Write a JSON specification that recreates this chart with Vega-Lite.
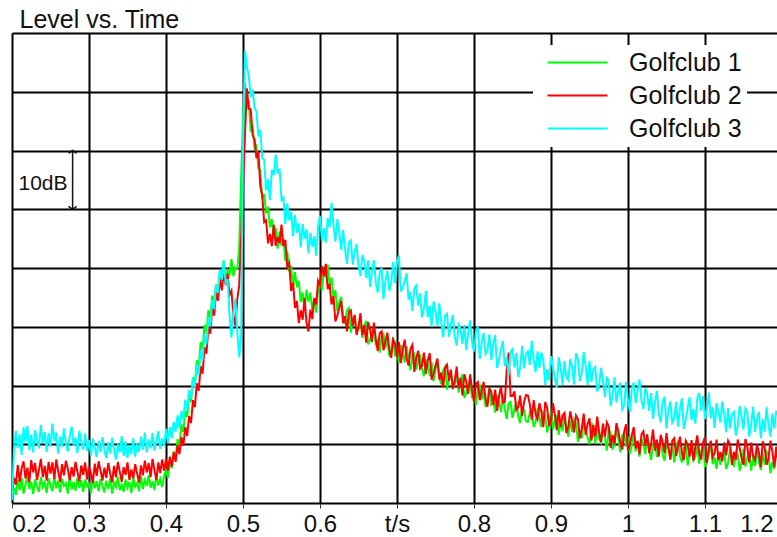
{
  "$schema": "https://vega.github.io/schema/vega-lite/v6.json",
  "width": 770,
  "height": 470,
  "autosize": {"type": "none"},
  "padding": {"left": 12, "top": 33, "right": -5, "bottom": 34},
  "background": "white",
  "title": {"text": "Level vs. Time", "anchor": "start", "fontSize": 25, "font": "Liberation Sans", "fontWeight": "normal", "color": "#111", "offset": 4, "dx": 8, "dy": 24, "baseline": "alphabetic"},
  "config": {"view": {"stroke": null}},
  "datasets": {
    "main": [
{"t":0.2,"g":1.0,"r":2.0,"c":0.5},
{"t":0.2025,"g":2.6,"r":4.3,"c":8.9},
{"t":0.205,"g":1.4,"r":3.1,"c":12.3},
{"t":0.2075,"g":3.9,"r":6.5,"c":9.4},
{"t":0.21,"g":2.2,"r":3.6,"c":11.7},
{"t":0.2125,"g":4.3,"r":5.9,"c":8.2},
{"t":0.215,"g":1.6,"r":7.1,"c":12.9},
{"t":0.2175,"g":3.1,"r":4.2,"c":10.3},
{"t":0.22,"g":4.6,"r":6.0,"c":13.1},
{"t":0.2225,"g":2.4,"r":3.5,"c":9.0},
{"t":0.225,"g":3.6,"r":7.3,"c":11.6},
{"t":0.2275,"g":1.5,"r":5.2,"c":8.6},
{"t":0.23,"g":4.0,"r":6.8,"c":12.4},
{"t":0.2325,"g":2.8,"r":3.9,"c":10.8},
{"t":0.235,"g":1.9,"r":5.6,"c":9.3},
{"t":0.2375,"g":4.4,"r":7.5,"c":13.3},
{"t":0.24,"g":2.7,"r":4.4,"c":10.2},
{"t":0.2425,"g":3.5,"r":6.3,"c":12.1},
{"t":0.245,"g":1.7,"r":3.8,"c":8.7},
{"t":0.2475,"g":4.2,"r":7.0,"c":11.9},
{"t":0.25,"g":3.0,"r":5.0,"c":9.6},
{"t":0.2525,"g":2.0,"r":6.9,"c":13.5},
{"t":0.255,"g":4.5,"r":4.1,"c":10.5},
{"t":0.2575,"g":2.5,"r":7.4,"c":12.0},
{"t":0.26,"g":3.8,"r":5.4,"c":8.4},
{"t":0.2625,"g":1.8,"r":3.6,"c":11.3},
{"t":0.265,"g":4.1,"r":6.6,"c":9.5},
{"t":0.2675,"g":2.9,"r":4.7,"c":12.7},
{"t":0.27,"g":3.4,"r":7.2,"c":10.0},
{"t":0.2725,"g":1.6,"r":5.8,"c":8.8},
{"t":0.275,"g":4.7,"r":3.9,"c":11.4},
{"t":0.2775,"g":2.3,"r":6.1,"c":13.0},
{"t":0.28,"g":3.6,"r":4.5,"c":9.8},
{"t":0.2825,"g":2.1,"r":7.0,"c":11.1},
{"t":0.285,"g":4.3,"r":5.3,"c":8.5},
{"t":0.2875,"g":2.6,"r":3.7,"c":12.3},
{"t":0.29,"g":3.9,"r":6.4,"c":10.2},
{"t":0.2925,"g":1.9,"r":4.8,"c":9.1},
{"t":0.295,"g":4.0,"r":6.9,"c":11.8},
{"t":0.2975,"g":2.8,"r":4.0,"c":8.9},
{"t":0.3,"g":3.3,"r":6.2,"c":10.7},
{"t":0.3025,"g":1.7,"r":5.1,"c":8.1},
{"t":0.305,"g":4.4,"r":3.4,"c":11.0},
{"t":0.3075,"g":2.5,"r":6.7,"c":9.4},
{"t":0.31,"g":3.7,"r":4.6,"c":7.8},
{"t":0.3125,"g":2.0,"r":7.1,"c":10.6},
{"t":0.315,"g":4.1,"r":5.5,"c":8.7},
{"t":0.3175,"g":2.9,"r":3.8,"c":11.2},
{"t":0.32,"g":1.8,"r":6.0,"c":9.0},
{"t":0.3225,"g":3.8,"r":4.3,"c":7.6},
{"t":0.325,"g":2.4,"r":6.8,"c":10.3},
{"t":0.3275,"g":4.2,"r":5.0,"c":8.4},
{"t":0.33,"g":1.6,"r":3.5,"c":11.1},
{"t":0.3325,"g":3.5,"r":6.3,"c":9.2},
{"t":0.335,"g":2.7,"r":4.4,"c":7.4},
{"t":0.3375,"g":4.5,"r":7.0,"c":10.0},
{"t":0.34,"g":2.2,"r":5.3,"c":8.6},
{"t":0.3425,"g":3.1,"r":3.6,"c":11.4},
{"t":0.345,"g":1.9,"r":6.1,"c":8.0},
{"t":0.3475,"g":4.0,"r":4.8,"c":10.5},
{"t":0.35,"g":2.6,"r":6.9,"c":7.7},
{"t":0.3525,"g":3.6,"r":3.9,"c":9.9},
{"t":0.355,"g":1.7,"r":5.7,"c":8.3},
{"t":0.3575,"g":4.3,"r":4.2,"c":11.0},
{"t":0.36,"g":2.8,"r":6.6,"c":7.9},
{"t":0.3625,"g":3.4,"r":5.0,"c":10.1},
{"t":0.365,"g":2.0,"r":3.5,"c":8.7},
{"t":0.3675,"g":4.6,"r":6.4,"c":11.3},
{"t":0.37,"g":2.4,"r":4.7,"c":9.1},
{"t":0.3725,"g":3.9,"r":7.2,"c":12.0},
{"t":0.375,"g":2.9,"r":5.2,"c":8.6},
{"t":0.3775,"g":4.8,"r":6.8,"c":10.8},
{"t":0.38,"g":2.6,"r":4.4,"c":9.3},
{"t":0.3825,"g":3.7,"r":7.5,"c":11.9},
{"t":0.385,"g":2.2,"r":5.6,"c":8.9},
{"t":0.3875,"g":4.9,"r":3.9,"c":10.6},
{"t":0.39,"g":3.0,"r":6.9,"c":12.2},
{"t":0.3925,"g":4.1,"r":5.1,"c":9.2},
{"t":0.395,"g":2.7,"r":7.4,"c":11.0},
{"t":0.3975,"g":4.6,"r":5.5,"c":9.7},
{"t":0.4,"g":5.6,"r":7.4,"c":12.6},
{"t":0.4025,"g":4.3,"r":5.5,"c":10.2},
{"t":0.405,"g":7.1,"r":7.9,"c":12.9},
{"t":0.4075,"g":5.9,"r":6.2,"c":11.0},
{"t":0.41,"g":8.8,"r":8.6,"c":13.8},
{"t":0.4125,"g":7.6,"r":7.0,"c":12.1},
{"t":0.415,"g":10.9,"r":9.9,"c":14.9},
{"t":0.4175,"g":9.8,"r":8.3,"c":12.8},
{"t":0.42,"g":13.4,"r":11.2,"c":15.7},
{"t":0.4225,"g":12.1,"r":9.7,"c":14.2},
{"t":0.425,"g":15.7,"r":12.9,"c":17.6},
{"t":0.4275,"g":14.6,"r":11.4,"c":15.9},
{"t":0.43,"g":18.3,"r":14.8,"c":19.2},
{"t":0.4325,"g":17.2,"r":13.6,"c":17.8},
{"t":0.435,"g":21.4,"r":17.5,"c":21.3},
{"t":0.4375,"g":20.2,"r":16.3,"c":19.7},
{"t":0.44,"g":24.3,"r":20.4,"c":23.5},
{"t":0.4425,"g":23.1,"r":19.1,"c":21.8},
{"t":0.445,"g":27.4,"r":23.3,"c":25.9},
{"t":0.4475,"g":26.1,"r":22.0,"c":24.4},
{"t":0.45,"g":30.3,"r":26.5,"c":28.6},
{"t":0.4525,"g":29.0,"r":25.4,"c":27.0},
{"t":0.455,"g":32.8,"r":29.9,"c":31.4},
{"t":0.4575,"g":31.5,"r":28.8,"c":30.1},
{"t":0.46,"g":35.3,"r":33.2,"c":34.5},
{"t":0.4625,"g":33.8,"r":31.9,"c":33.0},
{"t":0.465,"g":37.2,"r":35.9,"c":37.1},
{"t":0.4675,"g":35.9,"r":34.4,"c":35.8},
{"t":0.47,"g":39.3,"r":38.1,"c":39.7},
{"t":0.4725,"g":37.8,"r":36.2,"c":38.0},
{"t":0.475,"g":41.3,"r":39.2,"c":41.2},
{"t":0.4775,"g":38.0,"r":37.1,"c":37.4},
{"t":0.48,"g":39.6,"r":39.0,"c":38.1},
{"t":0.4825,"g":38.9,"r":35.4,"c":32.0},
{"t":0.485,"g":41.5,"r":36.1,"c":28.2},
{"t":0.4875,"g":38.6,"r":32.0,"c":32.4},
{"t":0.49,"g":40.1,"r":30.2,"c":34.8},
{"t":0.4925,"g":39.9,"r":34.6,"c":29.3},
{"t":0.495,"g":43.2,"r":36.9,"c":24.8},
{"t":0.4975,"g":55.0,"r":45.0,"c":28.0},
{"t":0.5,"g":65.0,"r":53.5,"c":61.0},
{"t":0.5025,"g":71.5,"r":62.5,"c":77.0},
{"t":0.505,"g":67.2,"r":70.6,"c":74.3},
{"t":0.5075,"g":68.4,"r":67.1,"c":72.8},
{"t":0.51,"g":63.2,"r":67.0,"c":69.1},
{"t":0.5125,"g":64.1,"r":62.6,"c":70.4},
{"t":0.515,"g":60.4,"r":61.9,"c":67.2},
{"t":0.5175,"g":60.8,"r":58.7,"c":66.6},
{"t":0.52,"g":56.9,"r":59.8,"c":62.4},
{"t":0.5225,"g":56.7,"r":53.9,"c":63.5},
{"t":0.525,"g":51.8,"r":52.3,"c":58.7},
{"t":0.5275,"g":52.6,"r":47.8,"c":58.4},
{"t":0.53,"g":49.3,"r":48.1,"c":53.2},
{"t":0.5325,"g":50.4,"r":44.2,"c":55.1},
{"t":0.535,"g":46.9,"r":45.8,"c":51.6},
{"t":0.5375,"g":48.3,"r":43.7,"c":56.7},
{"t":0.54,"g":45.2,"r":47.4,"c":55.8},
{"t":0.5425,"g":46.8,"r":43.8,"c":59.3},
{"t":0.545,"g":43.3,"r":45.3,"c":56.1},
{"t":0.5475,"g":46.2,"r":44.2,"c":56.9},
{"t":0.55,"g":43.8,"r":47.4,"c":51.6},
{"t":0.5525,"g":44.9,"r":43.7,"c":52.0},
{"t":0.555,"g":41.2,"r":44.8,"c":47.5},
{"t":0.5575,"g":42.8,"r":40.2,"c":51.0},
{"t":0.56,"g":39.3,"r":40.9,"c":48.1},
{"t":0.5625,"g":40.4,"r":36.1,"c":49.6},
{"t":0.565,"g":36.8,"r":37.5,"c":45.4},
{"t":0.5675,"g":39.3,"r":33.2,"c":49.0},
{"t":0.57,"g":36.7,"r":34.4,"c":46.0},
{"t":0.5725,"g":37.8,"r":30.6,"c":47.6},
{"t":0.575,"g":34.2,"r":32.8,"c":43.5},
{"t":0.5775,"g":35.8,"r":31.2,"c":47.5},
{"t":0.58,"g":32.7,"r":34.9,"c":45.0},
{"t":0.5825,"g":36.3,"r":30.7,"c":46.6},
{"t":0.585,"g":34.3,"r":29.2,"c":42.5},
{"t":0.5875,"g":35.8,"r":32.9,"c":46.0},
{"t":0.59,"g":32.8,"r":31.3,"c":43.6},
{"t":0.5925,"g":34.7,"r":34.9,"c":45.4},
{"t":0.595,"g":32.4,"r":33.8,"c":42.1},
{"t":0.5975,"g":36.2,"r":37.8,"c":47.0},
{"t":0.6,"g":37.9,"r":37.1,"c":48.9},
{"t":0.6025,"g":36.2,"r":40.3,"c":44.6},
{"t":0.605,"g":39.7,"r":38.6,"c":46.8},
{"t":0.6075,"g":38.4,"r":40.7,"c":44.3},
{"t":0.61,"g":40.6,"r":36.4,"c":48.5},
{"t":0.6125,"g":36.9,"r":37.3,"c":46.9},
{"t":0.615,"g":38.4,"r":33.8,"c":51.1},
{"t":0.6175,"g":35.0,"r":35.2,"c":47.2},
{"t":0.62,"g":36.2,"r":30.9,"c":44.5},
{"t":0.6225,"g":32.6,"r":31.9,"c":48.3},
{"t":0.625,"g":34.2,"r":33.2,"c":46.1},
{"t":0.6275,"g":35.1,"r":34.4,"c":43.1},
{"t":0.63,"g":31.9,"r":30.6,"c":46.5},
{"t":0.6325,"g":30.5,"r":31.8,"c":43.2},
{"t":0.635,"g":32.8,"r":29.2,"c":40.7},
{"t":0.6375,"g":33.2,"r":32.5,"c":44.4},
{"t":0.64,"g":29.0,"r":32.8,"c":44.7},
{"t":0.6425,"g":31.0,"r":30.1,"c":40.6},
{"t":0.645,"g":31.9,"r":32.0,"c":42.6},
{"t":0.6475,"g":29.3,"r":28.6,"c":44.1},
{"t":0.65,"g":29.6,"r":30.0,"c":40.4},
{"t":0.6525,"g":31.4,"r":32.3,"c":38.6},
{"t":0.655,"g":28.1,"r":28.6,"c":42.2},
{"t":0.6575,"g":30.1,"r":30.3,"c":41.2},
{"t":0.66,"g":31.0,"r":27.3,"c":38.3},
{"t":0.6625,"g":27.0,"r":30.8,"c":41.3},
{"t":0.665,"g":27.8,"r":29.5,"c":36.8},
{"t":0.6675,"g":29.0,"r":27.4,"c":39.5},
{"t":0.67,"g":30.0,"r":30.7,"c":41.3},
{"t":0.6725,"g":26.8,"r":27.9,"c":37.5},
{"t":0.675,"g":27.8,"r":25.9,"c":35.8},
{"t":0.6775,"g":25.6,"r":28.9,"c":39.2},
{"t":0.68,"g":28.4,"r":29.2,"c":40.0},
{"t":0.6825,"g":28.8,"r":26.0,"c":34.7},
{"t":0.685,"g":26.4,"r":27.6,"c":37.8},
{"t":0.6875,"g":28.0,"r":29.0,"c":39.5},
{"t":0.69,"g":25.0,"r":26.1,"c":36.1},
{"t":0.6925,"g":26.2,"r":24.7,"c":37.5},
{"t":0.695,"g":28.2,"r":27.8,"c":41.0},
{"t":0.6975,"g":25.0,"r":27.1,"c":37.4},
{"t":0.7,"g":26.4,"r":24.8,"c":41.1},
{"t":0.7025,"g":23.8,"r":27.4,"c":42.1},
{"t":0.705,"g":26.9,"r":23.8,"c":36.0},
{"t":0.7075,"g":25.7,"r":26.2,"c":36.7},
{"t":0.71,"g":23.9,"r":27.8,"c":37.8},
{"t":0.7125,"g":26.7,"r":24.6,"c":39.1},
{"t":0.715,"g":24.4,"r":23.4,"c":34.6},
{"t":0.7175,"g":22.6,"r":26.2,"c":35.9},
{"t":0.72,"g":25.2,"r":26.9,"c":32.7},
{"t":0.7225,"g":25.4,"r":22.3,"c":36.5},
{"t":0.725,"g":22.7,"r":24.7,"c":37.0},
{"t":0.7275,"g":24.1,"r":25.9,"c":33.6},
{"t":0.73,"g":25.3,"r":22.9,"c":35.7},
{"t":0.7325,"g":22.7,"r":23.4,"c":31.6},
{"t":0.735,"g":21.6,"r":25.6,"c":33.2},
{"t":0.7375,"g":24.2,"r":22.0,"c":36.1},
{"t":0.74,"g":23.6,"r":24.3,"c":31.6},
{"t":0.7425,"g":21.6,"r":25.5,"c":33.6},
{"t":0.745,"g":23.9,"r":21.0,"c":30.0},
{"t":0.7475,"g":20.7,"r":22.0,"c":34.3},
{"t":0.75,"g":22.7,"r":23.4,"c":32.6},
{"t":0.7525,"g":24.1,"r":24.6,"c":30.1},
{"t":0.755,"g":21.4,"r":21.0,"c":34.0},
{"t":0.7575,"g":20.2,"r":22.2,"c":30.7},
{"t":0.76,"g":22.6,"r":19.7,"c":28.2},
{"t":0.7625,"g":23.2,"r":23.0,"c":31.9},
{"t":0.765,"g":19.3,"r":23.5,"c":32.2},
{"t":0.7675,"g":21.3,"r":20.8,"c":28.3},
{"t":0.77,"g":22.3,"r":22.7,"c":30.3},
{"t":0.7725,"g":19.7,"r":19.4,"c":32.0},
{"t":0.775,"g":20.2,"r":20.8,"c":28.4},
{"t":0.7775,"g":22.0,"r":23.2,"c":26.8},
{"t":0.78,"g":18.8,"r":19.5,"c":30.4},
{"t":0.7825,"g":20.8,"r":21.3,"c":29.7},
{"t":0.785,"g":21.9,"r":18.3,"c":27.1},
{"t":0.7875,"g":17.9,"r":21.9,"c":30.3},
{"t":0.79,"g":18.7,"r":20.6,"c":26.0},
{"t":0.7925,"g":19.9,"r":18.6,"c":29.0},
{"t":0.795,"g":21.0,"r":21.9,"c":31.1},
{"t":0.7975,"g":17.8,"r":19.2,"c":27.3},
{"t":0.8,"g":18.8,"r":17.2,"c":25.8},
{"t":0.8025,"g":16.7,"r":20.3,"c":29.2},
{"t":0.805,"g":19.5,"r":20.6,"c":30.0},
{"t":0.8075,"g":20.0,"r":17.5,"c":24.5},
{"t":0.81,"g":17.6,"r":19.1,"c":27.3},
{"t":0.8125,"g":19.3,"r":20.6,"c":28.9},
{"t":0.815,"g":16.3,"r":17.7,"c":25.4},
{"t":0.8175,"g":17.6,"r":16.4,"c":26.0},
{"t":0.82,"g":19.6,"r":19.5,"c":28.7},
{"t":0.8225,"g":16.5,"r":18.9,"c":24.3},
{"t":0.825,"g":17.9,"r":16.7,"c":27.1},
{"t":0.8275,"g":15.4,"r":19.3,"c":28.6},
{"t":0.83,"g":18.4,"r":15.7,"c":23.0},
{"t":0.8325,"g":17.3,"r":18.1,"c":24.3},
{"t":0.835,"g":15.5,"r":19.8,"c":26.1},
{"t":0.8375,"g":18.4,"r":17.1,"c":27.6},
{"t":0.84,"g":16.0,"r":17.2,"c":23.3},
{"t":0.8425,"g":14.3,"r":22.7,"c":24.8},
{"t":0.845,"g":17.0,"r":25.6,"c":21.7},
{"t":0.8475,"g":17.2,"r":18.2,"c":25.7},
{"t":0.85,"g":14.5,"r":18.2,"c":26.2},
{"t":0.8525,"g":16.0,"r":19.0,"c":23.1},
{"t":0.855,"g":17.3,"r":15.8,"c":25.5},
{"t":0.8575,"g":14.7,"r":16.3,"c":21.4},
{"t":0.86,"g":13.6,"r":18.3,"c":23.2},
{"t":0.8625,"g":16.3,"r":14.8,"c":26.7},
{"t":0.865,"g":15.8,"r":17.2,"c":22.9},
{"t":0.8675,"g":13.9,"r":18.4,"c":25.4},
{"t":0.87,"g":13.8,"r":18.3,"c":25.8},
{"t":0.8725,"g":15.5,"r":16.8,"c":23.5},
{"t":0.875,"g":15.8,"r":14.2,"c":27.6},
{"t":0.8775,"g":12.9,"r":17.5,"c":24.3},
{"t":0.88,"g":13.8,"r":15.1,"c":22.3},
{"t":0.8825,"g":16.1,"r":14.3,"c":25.8},
{"t":0.885,"g":14.6,"r":17.0,"c":23.0},
{"t":0.8875,"g":12.9,"r":15.5,"c":25.6},
{"t":0.89,"g":15.4,"r":12.9,"c":24.4},
{"t":0.8925,"g":14.9,"r":17.2,"c":20.1},
{"t":0.895,"g":12.0,"r":16.2,"c":22.8},
{"t":0.8975,"g":13.5,"r":13.1,"c":20.9},
{"t":0.9,"g":15.6,"r":14.1,"c":25.0},
{"t":0.9025,"g":12.5,"r":17.0,"c":23.2},
{"t":0.905,"g":14.0,"r":15.1,"c":21.2},
{"t":0.9075,"g":14.9,"r":12.4,"c":19.6},
{"t":0.91,"g":11.6,"r":15.8,"c":24.8},
{"t":0.9125,"g":13.9,"r":12.9,"c":23.1},
{"t":0.915,"g":12.2,"r":14.9,"c":20.0},
{"t":0.9175,"g":15.1,"r":15.3,"c":24.2},
{"t":0.92,"g":12.8,"r":11.9,"c":21.4},
{"t":0.9225,"g":11.3,"r":13.0,"c":20.9},
{"t":0.925,"g":14.0,"r":15.6,"c":24.5},
{"t":0.9275,"g":12.1,"r":13.9,"c":23.1},
{"t":0.93,"g":14.2,"r":12.0,"c":20.2},
{"t":0.9325,"g":13.5,"r":14.9,"c":25.5},
{"t":0.935,"g":10.4,"r":14.3,"c":24.4},
{"t":0.9375,"g":12.3,"r":11.0,"c":20.8},
{"t":0.94,"g":11.0,"r":12.7,"c":22.2},
{"t":0.9425,"g":13.9,"r":15.2,"c":25.7},
{"t":0.945,"g":12.6,"r":11.6,"c":23.4},
{"t":0.9475,"g":11.1,"r":13.4,"c":20.1},
{"t":0.95,"g":10.0,"r":14.4,"c":24.2},
{"t":0.9525,"g":13.7,"r":10.6,"c":20.6},
{"t":0.955,"g":12.4,"r":13.3,"c":22.8},
{"t":0.9575,"g":10.1,"r":11.3,"c":23.2},
{"t":0.96,"g":13.0,"r":14.7,"c":19.0},
{"t":0.9625,"g":10.9,"r":12.1,"c":20.0},
{"t":0.965,"g":10.2,"r":10.4,"c":23.0},
{"t":0.9675,"g":12.5,"r":13.5,"c":20.7},
{"t":0.97,"g":11.2,"r":11.3,"c":18.0},
{"t":0.9725,"g":8.9,"r":13.7,"c":21.5},
{"t":0.975,"g":12.7,"r":13.0,"c":20.6},
{"t":0.9775,"g":11.8,"r":9.4,"c":16.5},
{"t":0.98,"g":9.1,"r":11.6,"c":18.4},
{"t":0.9825,"g":10.0,"r":10.1,"c":21.4},
{"t":0.985,"g":12.6,"r":13.6,"c":17.1},
{"t":0.9875,"g":10.9,"r":12.1,"c":19.2},
{"t":0.99,"g":8.6,"r":10.4,"c":20.5},
{"t":0.9925,"g":11.5,"r":9.1,"c":15.9},
{"t":0.995,"g":11.9,"r":12.1,"c":16.6},
{"t":0.9975,"g":9.6,"r":13.4,"c":20.6},
{"t":1.0,"g":11.3,"r":8.9,"c":17.4},
{"t":1.0025,"g":8.4,"r":10.0,"c":15.5},
{"t":1.005,"g":9.8,"r":11.6,"c":19.6},
{"t":1.0075,"g":11.9,"r":12.9,"c":20.5},
{"t":1.01,"g":8.8,"r":9.3,"c":17.0},
{"t":1.0125,"g":10.3,"r":10.6,"c":19.2},
{"t":1.015,"g":7.9,"r":8.3,"c":21.0},
{"t":1.0175,"g":11.0,"r":11.7,"c":17.5},
{"t":1.02,"g":9.9,"r":12.2,"c":16.0},
{"t":1.0225,"g":8.3,"r":9.7,"c":19.5},
{"t":1.025,"g":11.2,"r":11.7,"c":18.6},
{"t":1.0275,"g":9.0,"r":8.5,"c":15.7},
{"t":1.03,"g":7.3,"r":10.0,"c":18.7},
{"t":1.0325,"g":10.1,"r":12.5,"c":14.3},
{"t":1.035,"g":10.4,"r":8.9,"c":17.1},
{"t":1.0375,"g":7.8,"r":10.8,"c":19.1},
{"t":1.04,"g":9.3,"r":7.9,"c":15.2},
{"t":1.0425,"g":10.7,"r":11.6,"c":13.7},
{"t":1.045,"g":8.2,"r":10.4,"c":17.2},
{"t":1.0475,"g":7.2,"r":8.5,"c":18.1},
{"t":1.05,"g":9.9,"r":11.9,"c":12.7},
{"t":1.0525,"g":9.5,"r":9.3,"c":15.7},
{"t":1.055,"g":7.6,"r":7.4,"c":17.3},
{"t":1.0575,"g":10.0,"r":10.6,"c":13.7},
{"t":1.06,"g":6.9,"r":11.0,"c":14.4},
{"t":1.0625,"g":9.1,"r":8.0,"c":17.2},
{"t":1.065,"g":10.6,"r":9.7,"c":13.0},
{"t":1.0675,"g":8.0,"r":11.3,"c":16.1},
{"t":1.07,"g":6.9,"r":8.5,"c":17.8},
{"t":1.0725,"g":9.5,"r":7.3,"c":12.6},
{"t":1.075,"g":10.2,"r":10.6,"c":14.2},
{"t":1.0775,"g":6.4,"r":10.0,"c":16.2},
{"t":1.08,"g":8.5,"r":7.9,"c":18.0},
{"t":1.0825,"g":9.7,"r":10.7,"c":14.1},
{"t":1.085,"g":7.2,"r":7.2,"c":16.0},
{"t":1.0875,"g":7.8,"r":9.7,"c":13.5},
{"t":1.09,"g":9.7,"r":11.5,"c":17.9},
{"t":1.0925,"g":6.7,"r":8.5,"c":18.7},
{"t":1.095,"g":8.8,"r":7.4,"c":15.7},
{"t":1.0975,"g":10.0,"r":10.3,"c":18.2},
{"t":1.1,"g":6.1,"r":11.2,"c":14.3},
{"t":1.1025,"g":7.1,"r":6.8,"c":16.0},
{"t":1.105,"g":8.5,"r":9.3,"c":18.8},
{"t":1.1075,"g":9.6,"r":10.6,"c":14.4},
{"t":1.11,"g":6.6,"r":7.8,"c":16.3},
{"t":1.1125,"g":7.8,"r":8.5,"c":12.8},
{"t":1.115,"g":5.8,"r":10.8,"c":17.0},
{"t":1.1175,"g":8.7,"r":7.3,"c":15.4},
{"t":1.12,"g":6.5,"r":8.7,"c":13.7},
{"t":1.1225,"g":8.3,"r":7.1,"c":17.3},
{"t":1.125,"g":8.7,"r":10.3,"c":15.1},
{"t":1.1275,"g":5.8,"r":8.1,"c":12.0},
{"t":1.13,"g":6.8,"r":10.6,"c":16.2},
{"t":1.1325,"g":9.2,"r":10.0,"c":12.7},
{"t":1.135,"g":7.8,"r":6.5,"c":15.1},
{"t":1.1375,"g":6.1,"r":8.7,"c":15.5},
{"t":1.14,"g":8.7,"r":7.3,"c":11.5},
{"t":1.1425,"g":8.3,"r":10.8,"c":13.0},
{"t":1.145,"g":5.5,"r":9.4,"c":16.5},
{"t":1.1475,"g":7.0,"r":7.7,"c":14.7},
{"t":1.15,"g":9.2,"r":6.5,"c":12.5},
{"t":1.1525,"g":6.2,"r":10.9,"c":16.1},
{"t":1.155,"g":7.8,"r":9.5,"c":15.4},
{"t":1.1575,"g":8.7,"r":6.9,"c":11.3},
{"t":1.16,"g":5.5,"r":10.3,"c":13.4},
{"t":1.1625,"g":7.9,"r":8.0,"c":16.4},
{"t":1.165,"g":6.3,"r":7.3,"c":12.1},
{"t":1.1675,"g":9.2,"r":10.0,"c":14.2},
{"t":1.17,"g":7.0,"r":8.6,"c":15.5},
{"t":1.1725,"g":5.6,"r":6.1,"c":11.0},
{"t":1.175,"g":8.4,"r":10.5,"c":14.3},
{"t":1.1775,"g":6.5,"r":9.5,"c":12.1},
{"t":1.18,"g":8.7,"r":6.5,"c":16.3},
{"t":1.1825,"g":8.1,"r":7.6,"c":13.2},
{"t":1.185,"g":5.1,"r":10.6,"c":11.3},
{"t":1.1875,"g":7.0,"r":8.7,"c":15.2},
{"t":1.19,"g":5.8,"r":6.1,"c":12.7},
{"t":1.1925,"g":8.8,"r":9.6,"c":15.7},
{"t":1.195,"g":7.6,"r":6.8,"c":14.9},
{"t":1.1975,"g":6.2,"r":8.9,"c":10.7},
{"t":1.2,"g":5.2,"r":9.4,"c":13.5}
    ],
    "ann": [
      {"t": 0.2787, "lo": 50, "hi": 60, "lt": 0.2403, "lv": 54.3, "label": "10dB"}
    ]
  },
  "layer": [
    {
      "data": {"name": "main"},
      "transform": [{"fold": ["g", "r", "c"], "as": ["club", "level"]}],
      "mark": {"type": "line", "strokeWidth": 2, "clip": true},
      "encoding": {
        "x": {
          "field": "t", "type": "quantitative",
          "scale": {"domain": [0.2, 1.2], "nice": false, "zero": false},
          "axis": {
            "title": null,
            "values": [0.2, 0.3, 0.4, 0.5, 0.6, 0.7, 0.8, 0.9, 1, 1.1, 1.2],
            "format": "~g",
            "labelExpr": "datum.value == 0.7 ? 't/s' : datum.label",
            "grid": true, "gridColor": "#000", "gridWidth": 2, "gridOpacity": 1,
            "domain": false,
            "ticks": true, "tickSize": 5, "tickColor": "#333", "tickWidth": 1,
            "labelFont": "Liberation Sans", "labelFontSize": 24, "labelColor": "#111",
            "labelPadding": 4, "labelBaseline": "top",
            "labelFlush": 10,
            "labelOffset": {"condition": {"test": "datum.value == 1.2", "value": -9}, "value": 0},
            "labelOverlap": false, "labelBound": false
          }
        },
        "y": {
          "field": "level", "type": "quantitative",
          "scale": {"domain": [0, 80], "nice": false, "zero": false},
          "axis": {
            "title": null, "values": [0, 10, 20, 30, 40, 50, 60, 70, 80],
            "labels": false, "ticks": false, "domain": false,
            "grid": true, "gridColor": "#000", "gridWidth": 2, "gridOpacity": 1
          }
        },
        "color": {
          "field": "club", "type": "nominal",
          "scale": {"domain": ["g", "r", "c"], "range": ["#00ff00", "#ff0000", "#00ffff"]},
          "legend": {
            "orient": "none", "legendX": 521, "legendY": 12,
            "title": null, "fillColor": "white", "padding": 5,
            "labelExpr": "datum.label == 'g' ? 'Golfclub 1' : datum.label == 'r' ? 'Golfclub 2' : 'Golfclub 3'",
            "labelFont": "Liberation Sans", "labelFontSize": 25, "labelColor": "#111",
            "symbolType": "M0,0H6", "symbolSize": 400, "symbolStrokeWidth": 2, "symbolOffset": -3,
            "labelOffset": 69, "rowPadding": 7, "labelLimit": 300
          }
        }
      }
    },
    {
      "data": {"name": "ann"},
      "mark": {"type": "rule", "color": "#111", "strokeWidth": 1.5},
      "encoding": {
        "x": {"field": "t", "type": "quantitative"},
        "y": {"field": "lo", "type": "quantitative"},
        "y2": {"field": "hi"}
      }
    },
    {
      "data": {"name": "ann"},
      "mark": {"type": "point", "shape": "M-1,0.7L0,0L1,0.7", "filled": false, "stroke": "#111", "strokeWidth": 1.5, "size": 64, "opacity": 1},
      "encoding": {
        "x": {"field": "t", "type": "quantitative"},
        "y": {"field": "hi", "type": "quantitative"}
      }
    },
    {
      "data": {"name": "ann"},
      "mark": {"type": "point", "shape": "M-1,-0.7L0,0L1,-0.7", "filled": false, "stroke": "#111", "strokeWidth": 1.5, "size": 64, "opacity": 1},
      "encoding": {
        "x": {"field": "t", "type": "quantitative"},
        "y": {"field": "lo", "type": "quantitative"}
      }
    },
    {
      "data": {"name": "ann"},
      "mark": {"type": "text", "font": "Liberation Sans", "fontSize": 21, "color": "#111", "align": "center", "baseline": "middle"},
      "encoding": {
        "x": {"field": "lt", "type": "quantitative"},
        "y": {"field": "lv", "type": "quantitative"},
        "text": {"field": "label"}
      }
    }
  ]
}
